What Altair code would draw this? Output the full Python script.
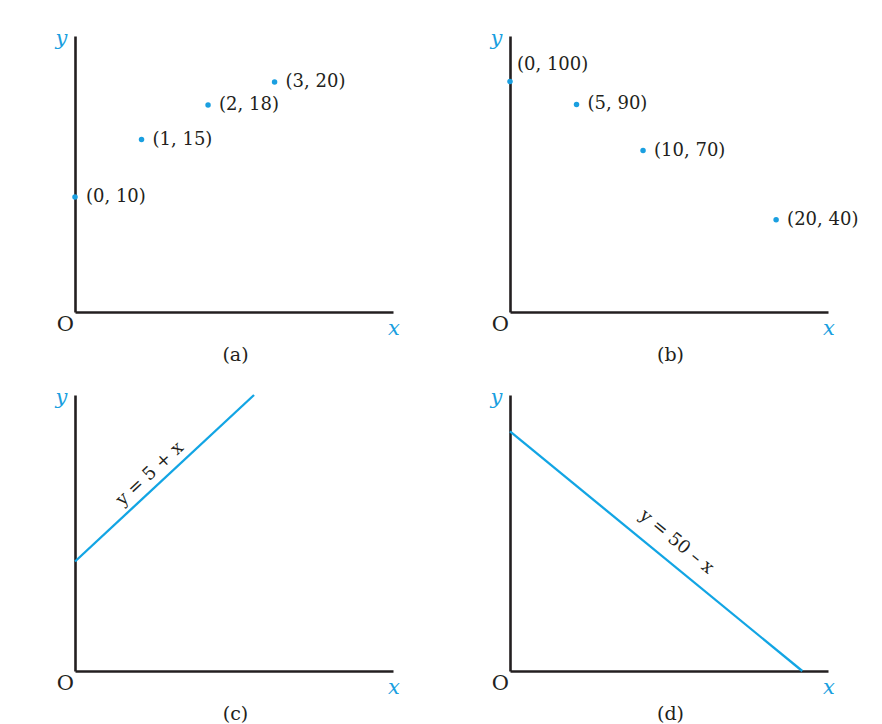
import altair as alt
import pandas as pd

# ---------------- data ----------------
# Panel (a): points
a_x = [0, 1, 2, 3]
a_y = [10, 15, 18, 20]
# Panel (b): points
b_x = [0, 5, 10, 20]
b_y = [100, 90, 70, 40]
# Panel (c): line y = 5 + x (end points)
c_x = [0, 7.6]
c_y = [5, 12.6]
# Panel (d): line y = 50 - x (end points)
d_x = [0, 50]
d_y = [50, 0]

panel_names = ["(a)", "(b)", "(c)", "(d)"]
x_max = [4.78, 23.9, 13.5, 54.4]
y_max = [24.0, 119.7, 12.6, 57.6]
eq_text = ["y = 5 + x", "y = 50 \u2013 x"]
eq_x = [3.56, 26.3]
eq_y = [8.56, 23.7]

# ---------------- style ----------------
W, H = 318, 276
BLUE = "#1a9fe0"
LINE_BLUE = "#12a5e4"
INK = "#231f20"
FONT = "DejaVu Serif"


def enc(xm, ym):
    ax = alt.Axis(domain=True, ticks=False, labels=False, grid=False, title=None,
                  domainColor=INK, domainWidth=2.6)
    return dict(
        x=alt.X("x:Q", scale=alt.Scale(domain=[0, xm], nice=False, zero=True), axis=ax),
        y=alt.Y("y:Q", scale=alt.Scale(domain=[0, ym], nice=False, zero=True), axis=ax),
    )


def frame_layers(i):
    xm, ym = x_max[i], y_max[i]
    e = enc(xm, ym)
    ylab = alt.Chart(pd.DataFrame({"x": [0], "y": [ym], "t": ["y"]})).mark_text(
        font=FONT, fontStyle="italic", fontSize=21, color=BLUE, align="center",
        baseline="alphabetic", dx=-13.5, dy=9).encode(text="t:N", **e)
    xlab = alt.Chart(pd.DataFrame({"x": [xm], "y": [0], "t": ["x"]})).mark_text(
        font=FONT, fontStyle="italic", fontSize=21, color=BLUE, align="center",
        baseline="alphabetic", dx=1, dy=23).encode(text="t:N", **e)
    olab = alt.Chart(pd.DataFrame({"x": [0], "y": [0], "t": ["O"]})).mark_text(
        font=FONT, fontSize=21, color=INK, align="right",
        baseline="alphabetic", dx=-1, dy=19).encode(text="t:N", **e)
    plab = alt.Chart(pd.DataFrame({"x": [xm / 2], "y": [0], "t": [panel_names[i]]})).mark_text(
        font=FONT, fontSize=19, color=INK, align="center",
        baseline="alphabetic", dx=1.5, dy=49).encode(text="t:N", **e)
    return [ylab, xlab, olab, plab]


def point_panel(i, xs, ys, first_special=False):
    xm, ym = x_max[i], y_max[i]
    e = enc(xm, ym)
    df = pd.DataFrame({"x": xs, "y": ys})
    df["t"] = ["(" + str(a) + ", " + str(b) + ")" for a, b in zip(xs, ys)]
    base = alt.Chart(df)
    pts = base.mark_point(filled=True, size=30, color=BLUE, opacity=1).encode(**e)
    layers = [pts]
    if first_special:
        lab = base.transform_filter("datum.x != 0").mark_text(
            font=FONT, fontSize=18, color=INK, align="left", baseline="middle", dx=11
        ).encode(text="t:N", **e)
        lab0 = base.transform_filter("datum.x == 0").mark_text(
            font=FONT, fontSize=18, color=INK, align="left", baseline="middle", dx=7, dy=-16
        ).encode(text="t:N", **e)
        layers += [lab, lab0]
    else:
        lab = base.mark_text(
            font=FONT, fontSize=18, color=INK, align="left", baseline="middle", dx=11
        ).encode(text="t:N", **e)
        layers += [lab]
    return alt.layer(*(layers + frame_layers(i))).properties(width=W, height=H)


def line_panel(i, xs, ys, k, angle, dy):
    xm, ym = x_max[i], y_max[i]
    e = enc(xm, ym)
    df = pd.DataFrame({"x": xs, "y": ys})
    ln = alt.Chart(df).mark_line(color=LINE_BLUE, strokeWidth=2.3).encode(**e)
    eq = alt.Chart(pd.DataFrame({"x": [eq_x[k]], "y": [eq_y[k]], "t": [eq_text[k]]})).mark_text(
        font=FONT, fontSize=18, color=INK, align="center", baseline="middle",
        angle=angle, dy=dy).encode(text="t:N", **e)
    return alt.layer(*([ln, eq] + frame_layers(i))).properties(width=W, height=H)


pa = point_panel(0, a_x, a_y)
pb = point_panel(1, b_x, b_y, first_special=True)
pc = line_panel(2, c_x, c_y, 0, 317, -13)
pd_ = line_panel(3, d_x, d_y, 1, 39.4, -20)

chart = alt.concat(
    pa, pb, pc, pd_, columns=2, spacing={"row": 83, "column": 117}, bounds="flush"
).properties(
    padding={"left": 47, "top": 20, "right": 5, "bottom": 5},
    background="white",
).configure_view(stroke=None)

chart.save("out.html", embed_options={"renderer": "svg", "actions": False})
